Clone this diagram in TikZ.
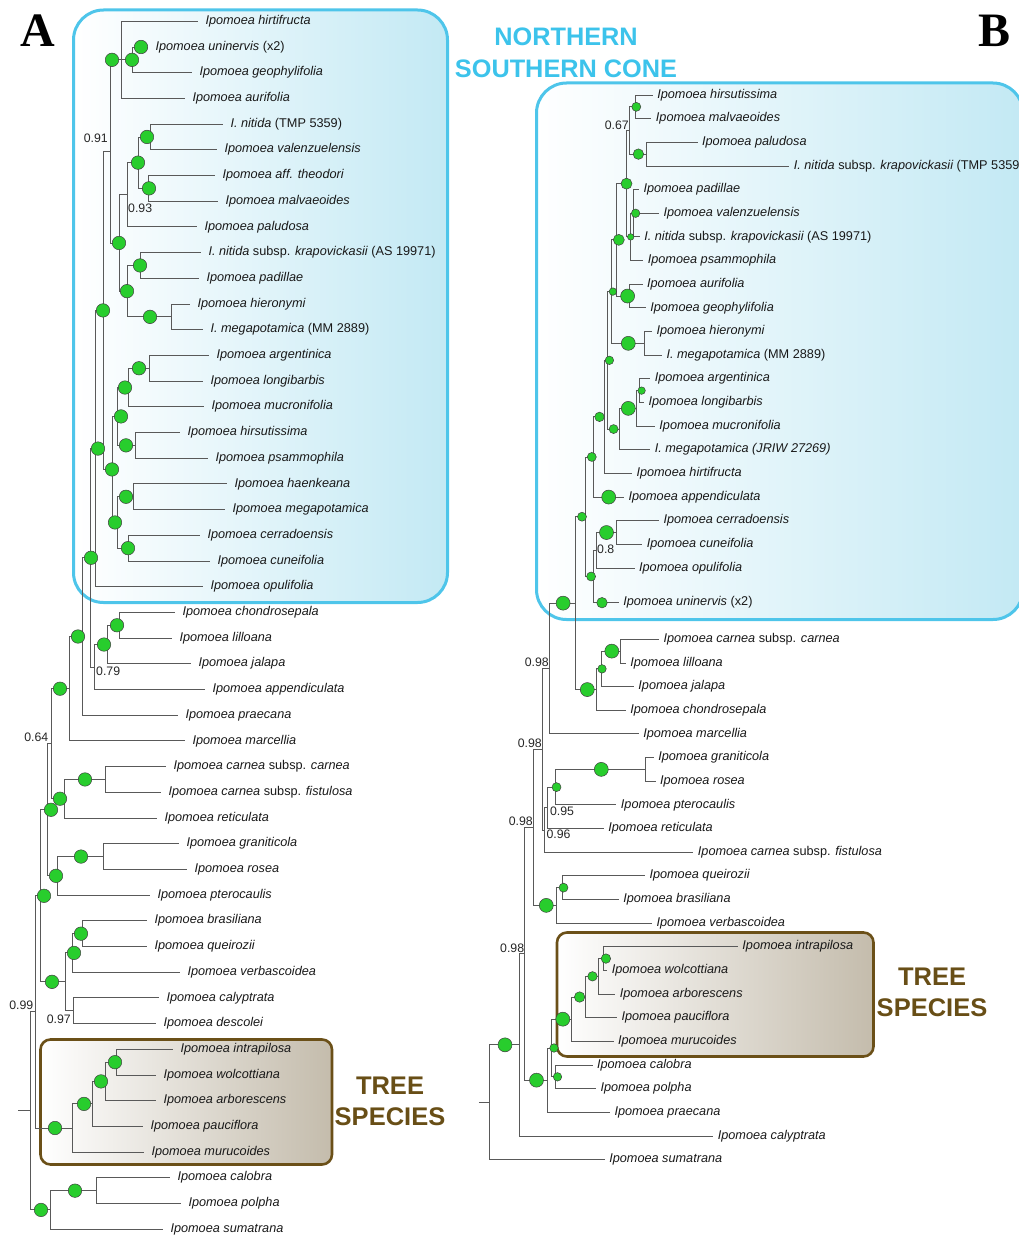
\documentclass[tikz,border=0pt]{standalone}
\usepackage{fontspec}
\setmainfont{Liberation Sans}
\newfontfamily\panelfont{Liberation Serif}
\usetikzlibrary{calc}

\definecolor{nodegreen}{RGB}{40,205,45}
\definecolor{coneblue}{RGB}{78,197,234}
\definecolor{conetext}{RGB}{60,195,235}
\definecolor{conefill}{RGB}{195,233,244}
\definecolor{treebrown}{RGB}{107,80,24}
\definecolor{treetext}{RGB}{104,78,22}
\definecolor{treefill}{RGB}{196,188,172}

% internal node: x position given, y midway between first and last child
\newcommand\inode[4]{\path let \p1=($(#3)!0.5!(#4)$) in coordinate (#1) at (#2pt,\y1);}
% rectangular branches from a parent to each of its children
\newcommand\kids[2]{\foreach \kid in {#2} {\draw[branch] (#1) |- (\kid);}}
% posterior marker on a branch: name, x, node giving the height, diameter
\newcommand\postdot[4]{\path let \p1=(#3) in node[pp, minimum size=#4pt] (#1) at (#2pt,\y1) {};}

\begin{document}
\begin{tikzpicture}[x=1pt,y=-1pt,
  branch/.style={draw=black!65, line width=0.9pt},
  leafa/.style={anchor=west, inner xsep=7.5pt, inner ysep=0pt, outer sep=0pt,
    text height=9pt, text depth=2.7pt, text=black!90,
    font=\fontsize{12.7}{14}\selectfont\itshape},
  leafb/.style={leafa, inner xsep=4.5pt},
  pp/.style={circle, draw=black!75, line width=0.5pt, fill=nodegreen, inner sep=0pt},
  prob/.style={inner sep=0pt, text=black!85, font=\fontsize{12.3}{14}\selectfont},
  conetitle/.style={inner sep=0pt, text=conetext, font=\fontsize{25.3}{28}\selectfont\bfseries},
  treetitle/.style={inner sep=0pt, text=treetext, font=\fontsize{25.5}{28}\selectfont\bfseries},
  panel/.style={inner sep=0pt, font=\fontsize{48}{50}\selectfont\panelfont\bfseries}]

\useasboundingbox (0,0) rectangle (1019,1236);

% ---------- clade boxes ----------
\path[draw=coneblue, line width=3pt, rounded corners=30pt, left color=white, right color=conefill]
  (73.5,10) rectangle (447.5,602.5);
\path[draw=coneblue, line width=3pt, rounded corners=30pt, left color=white, right color=conefill]
  (536.5,83) rectangle (1023,619.5);
\path[draw=treebrown, line width=2.6pt, rounded corners=10pt, left color=white, right color=treefill]
  (40.5,1039.5) rectangle (332,1164.5);
\path[draw=treebrown, line width=2.6pt, rounded corners=10pt, left color=white, right color=treefill]
  (557,932.5) rectangle (873.5,1056.5);

% ---------- headings ----------
\node[panel] (lA) at (38,31) {A};
\node[panel] (lB) at (994,31) {B};
\node[conetitle] (nt1) at (566,37) {NORTHERN};
\node[conetitle] (nt2) at (566,69) {SOUTHERN CONE};
\node[treetitle] (ta1) at (390,1086) {TREE};
\node[treetitle] (ta2) at (390,1117) {SPECIES};
\node[treetitle] (tb1) at (932,977) {TREE};
\node[treetitle] (tb2) at (932,1008) {SPECIES};

% ================= tree A =================
\node[leafa] (a0) at (198,21.3) {Ipomoea hirtifructa};
\node[leafa] (a1) at (148,47.0) {Ipomoea uninervis {\upshape(x2)}};
\node[leafa] (a2) at (192,72.7) {Ipomoea geophylifolia};
\node[leafa] (a3) at (185,98.4) {Ipomoea aurifolia};
\node[leafa] (a4) at (223,124.1) {I. nitida {\upshape(TMP 5359)}};
\node[leafa] (a5) at (217,149.8) {Ipomoea valenzuelensis};
\node[leafa] (a6) at (215,175.5) {Ipomoea aff. theodori};
\node[leafa] (a7) at (218,201.2) {Ipomoea malvaeoides};
\node[leafa] (a8) at (197,226.9) {Ipomoea paludosa};
\node[leafa] (a9) at (201,252.6) {I. nitida {\upshape subsp.} krapovickasii {\upshape(AS 19971)}};
\node[leafa] (a10) at (199,278.3) {Ipomoea padillae};
\node[leafa] (a11) at (190,304.0) {Ipomoea hieronymi};
\node[leafa] (a12) at (203,329.7) {I. megapotamica {\upshape(MM 2889)}};
\node[leafa] (a13) at (209,355.4) {Ipomoea argentinica};
\node[leafa] (a14) at (203,381.1) {Ipomoea longibarbis};
\node[leafa] (a15) at (204,406.8) {Ipomoea mucronifolia};
\node[leafa] (a16) at (180,432.5) {Ipomoea hirsutissima};
\node[leafa] (a17) at (208,458.2) {Ipomoea psammophila};
\node[leafa] (a18) at (227,483.9) {Ipomoea haenkeana};
\node[leafa] (a19) at (225,509.6) {Ipomoea megapotamica};
\node[leafa] (a20) at (200,535.3) {Ipomoea cerradoensis};
\node[leafa] (a21) at (210,561.0) {Ipomoea cuneifolia};
\node[leafa] (a22) at (203,586.7) {Ipomoea opulifolia};
\node[leafa] (a23) at (175,612.4) {Ipomoea chondrosepala};
\node[leafa] (a24) at (172,638.1) {Ipomoea lilloana};
\node[leafa] (a25) at (191,663.8) {Ipomoea jalapa};
\node[leafa] (a26) at (205,689.5) {Ipomoea appendiculata};
\node[leafa] (a27) at (178,715.2) {Ipomoea praecana};
\node[leafa] (a28) at (185,740.9) {Ipomoea marcellia};
\node[leafa] (a29) at (166,766.6) {Ipomoea carnea {\upshape subsp.} carnea};
\node[leafa] (a30) at (161,792.3) {Ipomoea carnea {\upshape subsp.} fistulosa};
\node[leafa] (a31) at (157,818.0) {Ipomoea reticulata};
\node[leafa] (a32) at (179,843.7) {Ipomoea graniticola};
\node[leafa] (a33) at (187,869.4) {Ipomoea rosea};
\node[leafa] (a34) at (150,895.1) {Ipomoea pterocaulis};
\node[leafa] (a35) at (147,920.8) {Ipomoea brasiliana};
\node[leafa] (a36) at (147,946.5) {Ipomoea queirozii};
\node[leafa] (a37) at (180,972.2) {Ipomoea verbascoidea};
\node[leafa] (a38) at (159,997.9) {Ipomoea calyptrata};
\node[leafa] (a39) at (156,1023.6) {Ipomoea descolei};
\node[leafa] (a40) at (173,1049.3) {Ipomoea intrapilosa};
\node[leafa] (a41) at (156,1075.0) {Ipomoea wolcottiana};
\node[leafa] (a42) at (156,1100.7) {Ipomoea arborescens};
\node[leafa] (a43) at (143,1126.4) {Ipomoea pauciflora};
\node[leafa] (a44) at (144,1152.1) {Ipomoea murucoides};
\node[leafa] (a45) at (170,1177.8) {Ipomoea calobra};
\node[leafa] (a46) at (181,1203.5) {Ipomoea polpha};
\node[leafa] (a47) at (163,1229.2) {Ipomoea sumatrana};

\inode{H1}{121}{a0}{a3}
\inode{U}{132}{a1}{a2}
\inode{V}{150}{a4}{a5}
\inode{W}{148}{a6}{a7}
\inode{X}{138}{V}{W}
\inode{Y}{127}{X}{a8}
\inode{Z}{140}{a9}{a10}
\inode{HM}{171}{a11}{a12}
\inode{Z2}{127}{Z}{HM}
\inode{Y2}{119}{Y}{Z2}
\inode{P}{110}{H1}{Y2}
\inode{AL}{149}{a13}{a14}
\inode{AM}{128}{AL}{a15}
\inode{HP}{135}{a16}{a17}
\inode{G2a}{117}{AM}{HP}
\inode{HK}{133}{a18}{a19}
\inode{CC}{128}{a20}{a21}
\inode{G2b}{117}{HK}{CC}
\inode{G2}{112}{G2a}{G2b}
\inode{P2}{103}{P}{G2}
\inode{SCa}{95}{P2}{a22}
\inode{CL}{119}{a23}{a24}
\inode{CJ}{107}{CL}{a25}
\inode{C1}{94}{CJ}{a26}
\inode{SC}{90}{SCa}{C1}
\inode{N82}{82}{SC}{a27}
\inode{M}{69}{N82}{a28}
\inode{CA}{105}{a29}{a30}
\inode{CR}{64}{CA}{a31}
\inode{N64}{51}{M}{CR}
\inode{GR}{103}{a32}{a33}
\inode{GP}{57}{GR}{a34}
\inode{T}{47}{N64}{GP}
\inode{BQ}{82}{a35}{a36}
\inode{BV}{72}{BQ}{a37}
\inode{CD}{73}{a38}{a39}
\inode{B2}{65}{BV}{CD}
\inode{S}{40}{T}{B2}
\inode{IW}{116}{a40}{a41}
\inode{IA}{105}{IW}{a42}
\inode{IP}{92}{IA}{a43}
\inode{TR}{72}{IP}{a44}
\inode{Q}{35}{S}{TR}
\inode{CP}{96}{a45}{a46}
\inode{CS}{50}{CP}{a47}
\inode{R}{30}{Q}{CS}
\path let \p1=(R) in coordinate (rootA) at (18pt,\y1);

\kids{H1}{a0,U,a3}
\kids{U}{a1,a2}
\kids{V}{a4,a5}
\kids{W}{a6,a7}
\kids{X}{V,W}
\kids{Y}{X,a8}
\kids{Z}{a9,a10}
\kids{HM}{a11,a12}
\kids{Z2}{Z,HM}
\kids{Y2}{Y,Z2}
\kids{P}{H1,Y2}
\kids{AL}{a13,a14}
\kids{AM}{AL,a15}
\kids{HP}{a16,a17}
\kids{G2a}{AM,HP}
\kids{HK}{a18,a19}
\kids{CC}{a20,a21}
\kids{G2b}{HK,CC}
\kids{G2}{G2a,G2b}
\kids{P2}{P,G2}
\kids{SCa}{P2,a22}
\kids{CL}{a23,a24}
\kids{CJ}{CL,a25}
\kids{C1}{CJ,a26}
\kids{SC}{SCa,C1}
\kids{N82}{SC,a27}
\kids{M}{N82,a28}
\kids{CA}{a29,a30}
\kids{CR}{CA,a31}
\kids{N64}{M,CR}
\kids{GR}{a32,a33}
\kids{GP}{GR,a34}
\kids{T}{N64,GP}
\kids{BQ}{a35,a36}
\kids{BV}{BQ,a37}
\kids{CD}{a38,a39}
\kids{B2}{BV,CD}
\kids{S}{T,B2}
\kids{IW}{a40,a41}
\kids{IA}{IW,a42}
\kids{IP}{IA,a43}
\kids{TR}{IP,a44}
\kids{Q}{S,TR}
\kids{CP}{a45,a46}
\kids{CS}{CP,a47}
\kids{R}{Q,CS}
\draw[branch] (rootA) -- (R);

\postdot{ca1}{112}{H1}{13.5}
\postdot{ca2}{132}{U}{13.5}
\postdot{ca3}{141}{a1}{13.5}
\postdot{ca4}{147}{V}{13.5}
\postdot{ca5}{138}{X}{13.5}
\postdot{ca6}{149}{W}{13.5}
\postdot{ca7}{119}{Y2}{13.5}
\postdot{ca8}{140}{Z}{13.5}
\postdot{ca9}{127}{Z2}{13.5}
\postdot{ca10}{150}{HM}{13.5}
\postdot{ca11}{103}{P2}{13.5}
\postdot{ca12}{139}{AL}{13.5}
\postdot{ca13}{125}{AM}{13.5}
\postdot{ca14}{121}{G2a}{13.5}
\postdot{ca15}{126}{HP}{13.5}
\postdot{ca16}{98}{SCa}{13.5}
\postdot{ca17}{112}{G2}{13.5}
\postdot{ca18}{126}{HK}{13.5}
\postdot{ca19}{115}{G2b}{13.5}
\postdot{ca20}{128}{CC}{13.5}
\postdot{ca21}{91}{SC}{13.5}
\postdot{ca22}{117}{CL}{13.5}
\postdot{ca23}{104}{CJ}{13.5}
\postdot{ca24}{78}{N82}{13.5}
\postdot{ca25}{60}{M}{13.5}
\postdot{ca26}{85}{CA}{13.5}
\postdot{ca27}{60}{CR}{13.5}
\postdot{ca28}{51}{T}{13.5}
\postdot{ca29}{81}{GR}{13.5}
\postdot{ca30}{56}{GP}{13.5}
\postdot{ca31}{44}{S}{13.5}
\postdot{ca32}{81}{BQ}{13.5}
\postdot{ca33}{74}{BV}{13.5}
\postdot{ca34}{52}{B2}{13.5}
\postdot{ca35}{115}{IW}{13.5}
\postdot{ca36}{101}{IA}{13.5}
\postdot{ca37}{84}{IP}{13.5}
\postdot{ca38}{55}{TR}{13.5}
\postdot{ca39}{75}{CP}{13.5}
\postdot{ca40}{41}{CS}{13.5}

\node[prob, anchor=east] (pa1) at (108,138.5) {0.91};
\node[prob, anchor=west] (pa2) at (128,208.5) {0.93};
\node[prob, anchor=west] (pa3) at (96,671) {0.79};
\node[prob, anchor=east] (pa4) at (48.5,737) {0.64};
\node[prob, anchor=east] (pa5) at (33.5,1005) {0.99};
\node[prob, anchor=east] (pa6) at (71,1019.5) {0.97};

% ================= tree B =================
\node[leafb] (b0) at (652.8,95.0) {Ipomoea hirsutissima};
\node[leafb] (b1) at (651.4,118.65) {Ipomoea malvaeoides};
\node[leafb] (b2) at (697.6,142.3) {Ipomoea paludosa};
\node[leafb] (b3) at (789.3,165.95) {I. nitida {\upshape subsp.} krapovickasii {\upshape(TMP 5359)}};
\node[leafb] (b4) at (639.0,189.6) {Ipomoea padillae};
\node[leafb] (b5) at (659.0,213.25) {Ipomoea valenzuelensis};
\node[leafb] (b6) at (639.8,236.9) {I. nitida {\upshape subsp.} krapovickasii {\upshape(AS 19971)}};
\node[leafb] (b7) at (643.3,260.55) {Ipomoea psammophila};
\node[leafb] (b8) at (642.6,284.2) {Ipomoea aurifolia};
\node[leafb] (b9) at (645.8,307.85) {Ipomoea geophylifolia};
\node[leafb] (b10) at (652.0,331.5) {Ipomoea hieronymi};
\node[leafb] (b11) at (662.0,355.15) {I. megapotamica {\upshape(MM 2889)}};
\node[leafb] (b12) at (650.3,378.8) {Ipomoea argentinica};
\node[leafb] (b13) at (644.0,402.45) {Ipomoea longibarbis};
\node[leafb] (b14) at (654.9,426.1) {Ipomoea mucronifolia};
\node[leafb] (b15) at (650.3,449.75) {I. megapotamica (JRIW 27269)};
\node[leafb] (b16) at (632.0,473.4) {Ipomoea hirtifructa};
\node[leafb] (b17) at (624.0,497.05) {Ipomoea appendiculata};
\node[leafb] (b18) at (659.0,520.7) {Ipomoea cerradoensis};
\node[leafb] (b19) at (642.3,544.35) {Ipomoea cuneifolia};
\node[leafb] (b20) at (634.6,568.0) {Ipomoea opulifolia};
\node[leafb] (b21) at (618.8,602.7) {Ipomoea uninervis {\upshape(x2)}};
\node[leafb] (b22) at (659.0,639.3) {Ipomoea carnea {\upshape subsp.} carnea};
\node[leafb] (b23) at (625.8,662.95) {Ipomoea lilloana};
\node[leafb] (b24) at (633.9,686.6) {Ipomoea jalapa};
\node[leafb] (b25) at (625.8,710.25) {Ipomoea chondrosepala};
\node[leafb] (b26) at (638.8,733.9) {Ipomoea marcellia};
\node[leafb] (b27) at (653.8,757.55) {Ipomoea graniticola};
\node[leafb] (b28) at (655.6,781.2) {Ipomoea rosea};
\node[leafb] (b29) at (616.4,804.85) {Ipomoea pterocaulis};
\node[leafb] (b30) at (603.8,828.5) {Ipomoea reticulata};
\node[leafb] (b31) at (693.4,852.15) {Ipomoea carnea {\upshape subsp.} fistulosa};
\node[leafb] (b32) at (645.0,875.8) {Ipomoea queirozii};
\node[leafb] (b33) at (618.8,899.45) {Ipomoea brasiliana};
\node[leafb] (b34) at (652.0,923.1) {Ipomoea verbascoidea};
\node[leafb] (b35) at (737.9,946.75) {Ipomoea intrapilosa};
\node[leafb] (b36) at (607.3,970.4) {Ipomoea wolcottiana};
\node[leafb] (b37) at (615.3,994.05) {Ipomoea arborescens};
\node[leafb] (b38) at (617.0,1017.7) {Ipomoea pauciflora};
\node[leafb] (b39) at (613.6,1041.35) {Ipomoea murucoides};
\node[leafb] (b40) at (592.5,1065.0) {Ipomoea calobra};
\node[leafb] (b41) at (596.0,1088.65) {Ipomoea polpha};
\node[leafb] (b42) at (610.0,1112.3) {Ipomoea praecana};
\node[leafb] (b43) at (713.3,1135.95) {Ipomoea calyptrata};
\node[leafb] (b44) at (604.8,1159.6) {Ipomoea sumatrana};

\inode{bhp}{635.3}{b0}{b1}
\inode{bpn}{646.8}{b2}{b3}
\inode{b067}{629.3}{bhp}{bpn}
\inode{ba}{633.9}{b4}{b6}
\inode{bb}{630}{ba}{b7}
\inode{bc}{626.5}{b067}{bb}
\inode{bd}{629.3}{b8}{b9}
\inode{be}{616.4}{bc}{bd}
\inode{bhm}{644}{b10}{b11}
\inode{bf}{611.8}{be}{bhm}
\inode{bal}{639.8}{b12}{b13}
\inode{bam}{636.3}{bal}{b14}
\inode{bh}{619.5}{bam}{b15}
\inode{bg}{607.3}{bf}{bh}
\inode{bk}{604.8}{bg}{b16}
\inode{bl}{593.2}{bk}{b17}
\inode{bcc}{616.4}{b18}{b19}
\inode{bn}{596}{bcc}{b20}
\inode{bo}{593.2}{bn}{b21}
\inode{bm}{585.5}{bl}{bo}
\inode{bcl}{620.6}{b22}{b23}
\inode{bcj}{601.3}{bcl}{b24}
\inode{bch}{596}{bcj}{b25}
\inode{bp}{575}{bm}{bch}
\inode{bq}{549.8}{bp}{b26}
\inode{bgr}{645}{b27}{b28}
\inode{bgp}{555.8}{bgr}{b29}
\inode{brr}{547}{bgp}{b30}
\inode{bs}{544.5}{brr}{b31}
\inode{bt}{542}{bq}{bs}
\inode{bqb}{562}{b32}{b33}
\inode{bqv}{556.8}{bqb}{b34}
\inode{bu}{533.8}{bt}{bqv}
\inode{biw}{603}{b35}{b36}
\inode{bia}{598.9}{biw}{b37}
\inode{bip}{585.5}{bia}{b38}
\inode{btr}{571.5}{bip}{b39}
\inode{bcp}{555.8}{b40}{b41}
\inode{bv}{551.6}{btr}{bcp}
\inode{bv2}{547}{bv}{b42}
\inode{bw}{524.3}{bu}{bv2}
\inode{bx}{519}{bw}{b43}
\inode{bR}{489.3}{bx}{b44}
\path let \p1=(bR) in coordinate (rootB) at (478.8pt,\y1);

\kids{bhp}{b0,b1}
\kids{bpn}{b2,b3}
\kids{b067}{bhp,bpn}
\kids{ba}{b4,b5,b6}
\kids{bb}{ba,b7}
\kids{bc}{b067,bb}
\kids{bd}{b8,b9}
\kids{be}{bc,bd}
\kids{bhm}{b10,b11}
\kids{bf}{be,bhm}
\kids{bal}{b12,b13}
\kids{bam}{bal,b14}
\kids{bh}{bam,b15}
\kids{bg}{bf,bh}
\kids{bk}{bg,b16}
\kids{bl}{bk,b17}
\kids{bcc}{b18,b19}
\kids{bn}{bcc,b20}
\kids{bo}{bn,b21}
\kids{bm}{bl,bo}
\kids{bcl}{b22,b23}
\kids{bcj}{bcl,b24}
\kids{bch}{bcj,b25}
\kids{bp}{bm,bch}
\kids{bq}{bp,b26}
\kids{bgr}{b27,b28}
\kids{bgp}{bgr,b29}
\kids{brr}{bgp,b30}
\kids{bs}{brr,b31}
\kids{bt}{bq,bs}
\kids{bqb}{b32,b33}
\kids{bqv}{bqb,b34}
\kids{bu}{bt,bqv}
\kids{biw}{b35,b36}
\kids{bia}{biw,b37}
\kids{bip}{bia,b38}
\kids{btr}{bip,b39}
\kids{bcp}{b40,b41}
\kids{bv}{btr,bcp}
\kids{bv2}{bv,b42}
\kids{bw}{bu,bv2}
\kids{bx}{bw,b43}
\kids{bR}{bx,b44}
\draw[branch] (rootB) -- (bR);

\postdot{cb1}{636.3}{bhp}{9}
\postdot{cb2}{638.4}{bpn}{10.5}
\postdot{cb3}{626.5}{bc}{11}
\postdot{cb4}{635.6}{ba}{8.5}
\postdot{cb5}{630.7}{bb}{6.5}
\postdot{cb6}{618.8}{be}{11}
\postdot{cb7}{627.6}{bd}{14}
\postdot{cb8}{612.9}{bf}{7.5}
\postdot{cb9}{628.3}{bhm}{14}
\postdot{cb10}{609.4}{bg}{8.5}
\postdot{cb11}{641.6}{bal}{7.5}
\postdot{cb12}{628.3}{bam}{14}
\postdot{cb13}{613.6}{bh}{9}
\postdot{cb14}{599.5}{bk}{9.5}
\postdot{cb15}{591.8}{bl}{9}
\postdot{cb16}{608.7}{b17}{14}
\postdot{cb17}{582}{bm}{9}
\postdot{cb18}{606.5}{bcc}{14}
\postdot{cb19}{591.1}{bo}{9}
\postdot{cb20}{602}{b21}{10.5}
\postdot{cb21}{563.1}{bp}{14}
\postdot{cb22}{611.8}{bcl}{14}
\postdot{cb23}{602}{bcj}{8.5}
\postdot{cb24}{587.3}{bch}{14}
\postdot{cb25}{601.3}{bgr}{14}
\postdot{cb26}{556.5}{bgp}{9}
\postdot{cb27}{563.5}{bqb}{9}
\postdot{cb28}{546.3}{bqv}{14}
\postdot{cb29}{605.9}{biw}{9.5}
\postdot{cb30}{592.5}{bia}{9.5}
\postdot{cb31}{579.6}{bip}{10.5}
\postdot{cb32}{562.8}{btr}{14}
\postdot{cb33}{557.5}{bcp}{8.5}
\postdot{cb34}{554}{bv}{8.5}
\postdot{cb35}{536.5}{bv2}{14}
\postdot{cb36}{505}{bx}{14}

\node[prob, anchor=east] (pb1) at (629,125) {0.67};
\node[prob, anchor=west] (pb2) at (597,549.3) {0.8};
\node[prob, anchor=east] (pb3) at (549,662.3) {0.98};
\node[prob, anchor=east] (pb4) at (542,743.3) {0.98};
\node[prob, anchor=west] (pb5) at (549.8,811) {0.95};
\node[prob, anchor=west] (pb6) at (546.3,834.3) {0.96};
\node[prob, anchor=east] (pb7) at (533,821) {0.98};
\node[prob, anchor=east] (pb8) at (524.3,948) {0.98};

\end{tikzpicture}
\end{document}
